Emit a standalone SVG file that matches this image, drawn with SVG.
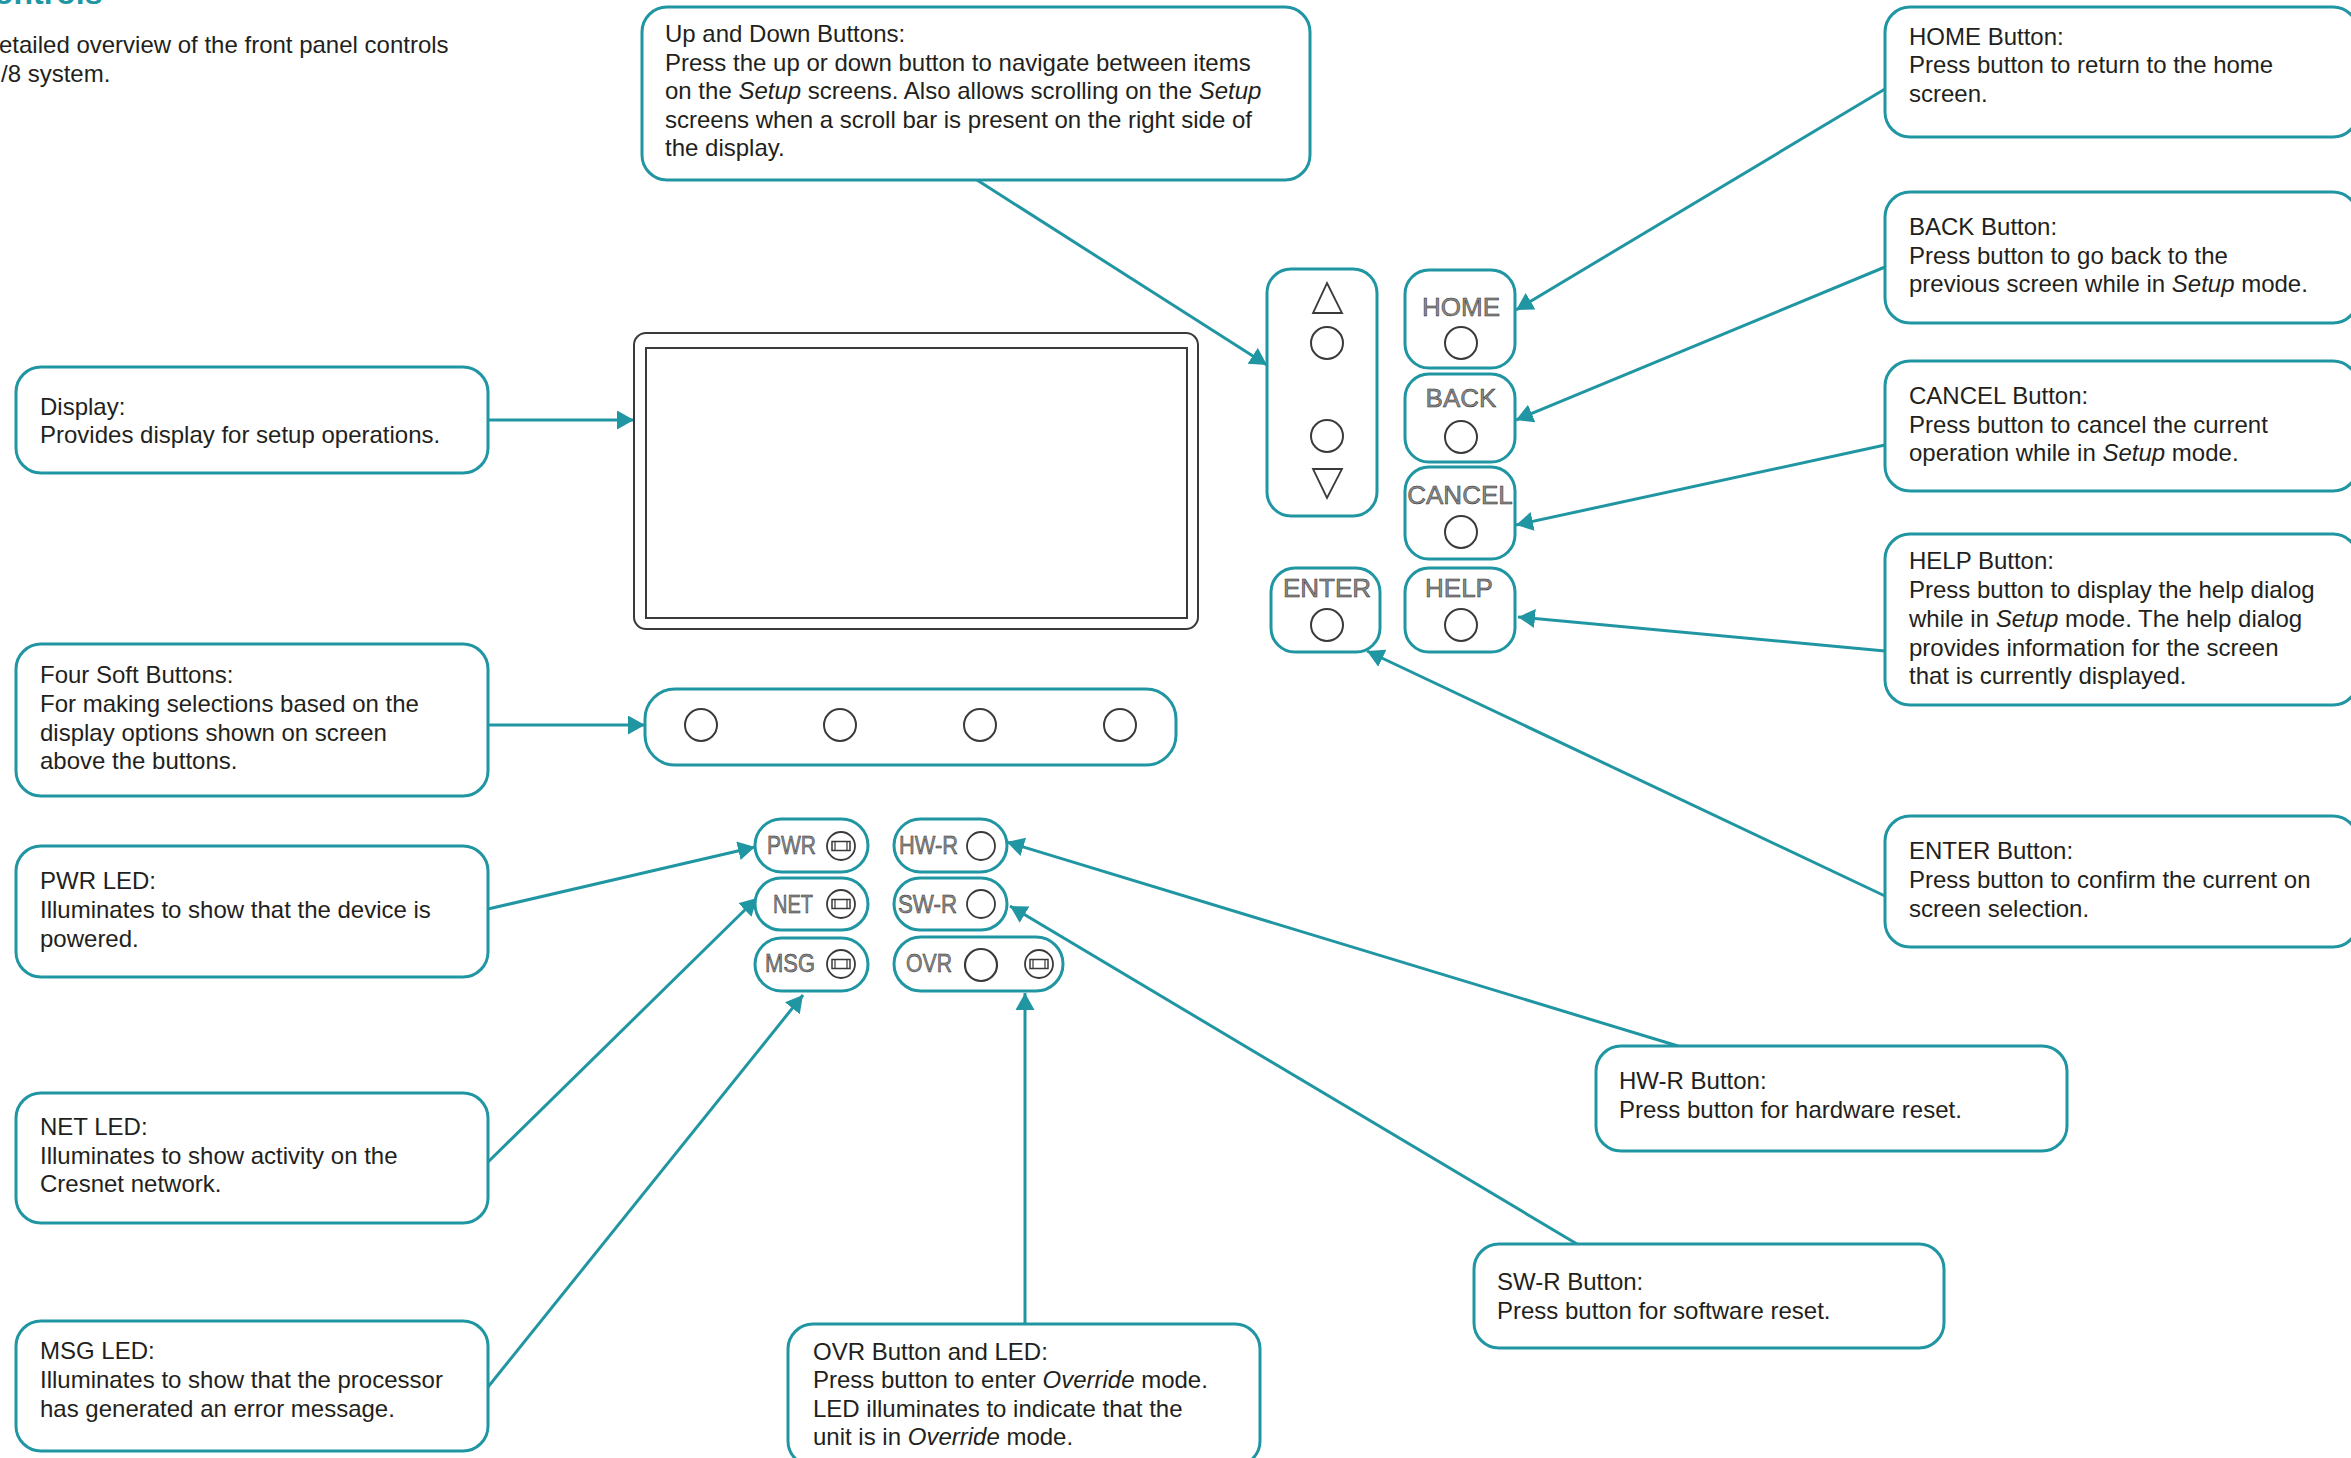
<svg xmlns="http://www.w3.org/2000/svg" width="2351" height="1458" viewBox="0 0 2351 1458">
<defs>
<marker id="arr" markerUnits="userSpaceOnUse" markerWidth="18" markerHeight="20" refX="17" refY="9.5" orient="auto"><path d="M0,0 L17,9.5 L0,19 z" fill="#2196a3"/></marker>
<g id="led"><circle cx="0" cy="0" r="14" fill="none" stroke="#3a3a3a" stroke-width="1.8"/><rect x="-9" y="-4.5" width="18" height="9" fill="none" stroke="#3a3a3a" stroke-width="1.5"/><line x1="-6" y1="-4.5" x2="-6" y2="4.5" stroke="#3a3a3a" stroke-width="1.2"/><line x1="6" y1="-4.5" x2="6" y2="4.5" stroke="#3a3a3a" stroke-width="1.2"/></g>
</defs>
<style>
.box{fill:#fff;stroke:#2196a3;stroke-width:3}
.t{font-family:"Liberation Sans",Arial,sans-serif;font-size:24px;fill:#231f20}
.i{font-style:italic}
.conn{stroke:#2196a3;stroke-width:3;fill:none;marker-end:url(#arr)}
.btn{fill:#fff;stroke:#2196a3;stroke-width:3}
.c{fill:none;stroke:#3a3a3a;stroke-width:2}
.lbl{font-family:"Liberation Sans",Arial,sans-serif;font-size:26px;fill:#8a8a8a;stroke:#2a2a2a;stroke-width:0.5;text-anchor:middle}
.led{font-family:"Liberation Sans",Arial,sans-serif;font-size:25px;fill:#8a8a8a;stroke:#2a2a2a;stroke-width:0.5}
.tri{fill:none;stroke:#3a3a3a;stroke-width:1.8}
</style>
<rect width="2351" height="1458" fill="#fff"/>

<g id="intro">
<text x="-6" y="4" font-family="Liberation Sans, Arial, sans-serif" font-size="32" font-weight="bold" fill="#2196a3">ontrols</text>
<text class="t" x="-1" y="53">etailed overview of the front panel controls</text>
<text class="t" x="1" y="81.5">/8 system.</text>
</g>

<g id="connectors">
<line class="conn" x1="977" y1="180" x2="1267" y2="365"/>
<line class="conn" x1="1885" y1="89" x2="1516" y2="310"/>
<line class="conn" x1="1885" y1="267" x2="1516" y2="420"/>
<line class="conn" x1="1885" y1="445" x2="1516" y2="525"/>
<line class="conn" x1="1885" y1="651" x2="1518" y2="617"/>
<line class="conn" x1="1885" y1="896" x2="1367" y2="651"/>
<line class="conn" x1="488" y1="420" x2="634" y2="420"/>
<line class="conn" x1="488" y1="725" x2="645" y2="725"/>
<line class="conn" x1="488" y1="909" x2="755" y2="847"/>
<line class="conn" x1="488" y1="1162" x2="757" y2="898"/>
<line class="conn" x1="488" y1="1387" x2="803" y2="995"/>
<line class="conn" x1="1678" y1="1046" x2="1007" y2="842"/>
<line class="conn" x1="1577" y1="1244" x2="1010" y2="906"/>
<line class="conn" x1="1025" y1="1324" x2="1025" y2="993"/>
</g>

<g id="display-panel">
<rect x="634" y="333" width="564" height="296" rx="12" fill="#fff" stroke="#3a3a3a" stroke-width="2"/>
<rect x="646" y="348" width="541" height="270" fill="none" stroke="#3a3a3a" stroke-width="2"/>
</g>

<g id="soft-buttons">
<rect class="btn" x="645" y="689" width="531" height="76" rx="30"/>
<circle class="c" cx="701" cy="725" r="16"/>
<circle class="c" cx="840" cy="725" r="16"/>
<circle class="c" cx="980" cy="725" r="16"/>
<circle class="c" cx="1120" cy="725" r="16"/>
</g>

<g id="updown-panel">
<rect class="btn" x="1267" y="269" width="110" height="247" rx="24"/>
<path class="tri" d="M1327,283 L1342,313 L1313,313 Z"/>
<circle class="c" cx="1327" cy="343" r="16"/>
<circle class="c" cx="1327" cy="436" r="16"/>
<path class="tri" d="M1313,469 L1342,469 L1327,498 Z"/>
</g>

<g id="home-btn">
<rect class="btn" x="1405" y="270" width="110" height="98" rx="24"/>
<text class="lbl" x="1461" y="316">HOME</text>
<circle class="c" cx="1461" cy="343" r="16"/>
</g>
<g id="back-btn">
<rect class="btn" x="1405" y="374" width="110" height="88" rx="24"/>
<text class="lbl" x="1461" y="407">BACK</text>
<circle class="c" cx="1461" cy="437" r="16"/>
</g>
<g id="cancel-btn">
<rect class="btn" x="1405" y="467" width="110" height="92" rx="24"/>
<text class="lbl" x="1460" y="504">CANCEL</text>
<circle class="c" cx="1461" cy="532" r="16"/>
</g>
<g id="help-btn">
<rect class="btn" x="1405" y="568" width="110" height="84" rx="24"/>
<text class="lbl" x="1459" y="597">HELP</text>
<circle class="c" cx="1461" cy="625" r="16"/>
</g>
<g id="enter-btn">
<rect class="btn" x="1271" y="568" width="109" height="84" rx="24"/>
<text class="lbl" x="1327" y="597">ENTER</text>
<circle class="c" cx="1327" cy="625" r="16"/>
</g>

<g id="pwr-led">
<rect class="btn" x="755" y="819" width="113" height="53" rx="26.5"/>
<text class="led" x="767" y="854" textLength="49" lengthAdjust="spacingAndGlyphs">PWR</text>
<use href="#led" x="841" y="846"/>
</g>
<g id="net-led">
<rect class="btn" x="755" y="878" width="113" height="52" rx="26"/>
<text class="led" x="773" y="913" textLength="40" lengthAdjust="spacingAndGlyphs">NET</text>
<use href="#led" x="841" y="904"/>
</g>
<g id="msg-led">
<rect class="btn" x="755" y="938" width="113" height="53" rx="26.5"/>
<text class="led" x="765" y="972" textLength="50" lengthAdjust="spacingAndGlyphs">MSG</text>
<use href="#led" x="841" y="964"/>
</g>
<g id="hwr-btn">
<rect class="btn" x="894" y="819" width="113" height="53" rx="26.5"/>
<text class="led" x="899" y="854" textLength="59" lengthAdjust="spacingAndGlyphs">HW-R</text>
<circle cx="981" cy="846" r="14" fill="none" stroke="#3a3a3a" stroke-width="1.8"/>
</g>
<g id="swr-btn">
<rect class="btn" x="894" y="878" width="113" height="52" rx="26"/>
<text class="led" x="898" y="913" textLength="59" lengthAdjust="spacingAndGlyphs">SW-R</text>
<circle cx="981" cy="904" r="14" fill="none" stroke="#3a3a3a" stroke-width="1.8"/>
</g>
<g id="ovr-btn">
<rect class="btn" x="894" y="937" width="169" height="54" rx="27"/>
<text class="led" x="906" y="972" textLength="46" lengthAdjust="spacingAndGlyphs">OVR</text>
<circle cx="981" cy="965" r="16" fill="none" stroke="#3a3a3a" stroke-width="2.2"/>
<use href="#led" x="1039" y="964"/>
</g>

<g id="updown-callout">
<rect class="box" x="642" y="7" width="668" height="173" rx="25"/>
<text class="t" x="665" y="42">Up and Down Buttons:</text>
<text class="t" x="665" y="70.5">Press the up or down button to navigate between items</text>
<text class="t" x="665" y="99">on the <tspan class="i">Setup</tspan> screens. Also allows scrolling on the <tspan class="i">Setup</tspan></text>
<text class="t" x="665" y="127.5">screens when a scroll bar is present on the right side of</text>
<text class="t" x="665" y="156">the display.</text>
</g>

<g id="display-callout">
<rect class="box" x="16" y="367" width="472" height="106" rx="25"/>
<text class="t" x="40" y="415">Display:</text>
<text class="t" x="40" y="443">Provides display for setup operations.</text>
</g>

<g id="soft-callout">
<rect class="box" x="16" y="644" width="472" height="152" rx="25"/>
<text class="t" x="40" y="683">Four Soft Buttons:</text>
<text class="t" x="40" y="712">For making selections based on the</text>
<text class="t" x="40" y="741">display options shown on screen</text>
<text class="t" x="40" y="769">above the buttons.</text>
</g>

<g id="pwr-callout">
<rect class="box" x="16" y="846" width="472" height="131" rx="25"/>
<text class="t" x="40" y="889">PWR LED:</text>
<text class="t" x="40" y="918">Illuminates to show that the device is</text>
<text class="t" x="40" y="947">powered.</text>
</g>

<g id="net-callout">
<rect class="box" x="16" y="1093" width="472" height="130" rx="25"/>
<text class="t" x="40" y="1135">NET LED:</text>
<text class="t" x="40" y="1164">Illuminates to show activity on the</text>
<text class="t" x="40" y="1192">Cresnet network.</text>
</g>

<g id="msg-callout">
<rect class="box" x="16" y="1321" width="472" height="130" rx="25"/>
<text class="t" x="40" y="1359">MSG LED:</text>
<text class="t" x="40" y="1388">Illuminates to show that the processor</text>
<text class="t" x="40" y="1417">has generated an error message.</text>
</g>

<g id="ovr-callout">
<rect class="box" x="788" y="1324" width="472" height="142" rx="25"/>
<text class="t" x="813" y="1360">OVR Button and LED:</text>
<text class="t" x="813" y="1388">Press button to enter <tspan class="i">Override</tspan> mode.</text>
<text class="t" x="813" y="1417">LED illuminates to indicate that the</text>
<text class="t" x="813" y="1445">unit is in <tspan class="i">Override</tspan> mode.</text>
</g>

<g id="swr-callout">
<rect class="box" x="1474" y="1244" width="470" height="104" rx="25"/>
<text class="t" x="1497" y="1290">SW-R Button:</text>
<text class="t" x="1497" y="1319">Press button for software reset.</text>
</g>

<g id="hwr-callout">
<rect class="box" x="1596" y="1046" width="471" height="105" rx="25"/>
<text class="t" x="1619" y="1089">HW-R Button:</text>
<text class="t" x="1619" y="1118">Press button for hardware reset.</text>
</g>

<g id="enter-callout">
<rect class="box" x="1885" y="816" width="473" height="131" rx="25"/>
<text class="t" x="1909" y="859">ENTER Button:</text>
<text class="t" x="1909" y="888">Press button to confirm the current on</text>
<text class="t" x="1909" y="917">screen selection.</text>
</g>

<g id="help-callout">
<rect class="box" x="1885" y="534" width="473" height="171" rx="25"/>
<text class="t" x="1909" y="569">HELP Button:</text>
<text class="t" x="1909" y="598">Press button to display the help dialog</text>
<text class="t" x="1909" y="627">while in <tspan class="i">Setup</tspan> mode. The help dialog</text>
<text class="t" x="1909" y="656">provides information for the screen</text>
<text class="t" x="1909" y="684">that is currently displayed.</text>
</g>

<g id="cancel-callout">
<rect class="box" x="1885" y="361" width="473" height="130" rx="25"/>
<text class="t" x="1909" y="404">CANCEL Button:</text>
<text class="t" x="1909" y="433">Press button to cancel the current</text>
<text class="t" x="1909" y="461">operation while in <tspan class="i">Setup</tspan> mode.</text>
</g>

<g id="back-callout">
<rect class="box" x="1885" y="192" width="473" height="131" rx="25"/>
<text class="t" x="1909" y="235">BACK Button:</text>
<text class="t" x="1909" y="264">Press button to go back to the</text>
<text class="t" x="1909" y="292">previous screen while in <tspan class="i">Setup</tspan> mode.</text>
</g>

<g id="home-callout">
<rect class="box" x="1885" y="7" width="473" height="130" rx="25"/>
<text class="t" x="1909" y="45">HOME Button:</text>
<text class="t" x="1909" y="73">Press button to return to the home</text>
<text class="t" x="1909" y="102">screen.</text>
</g>
</svg>
